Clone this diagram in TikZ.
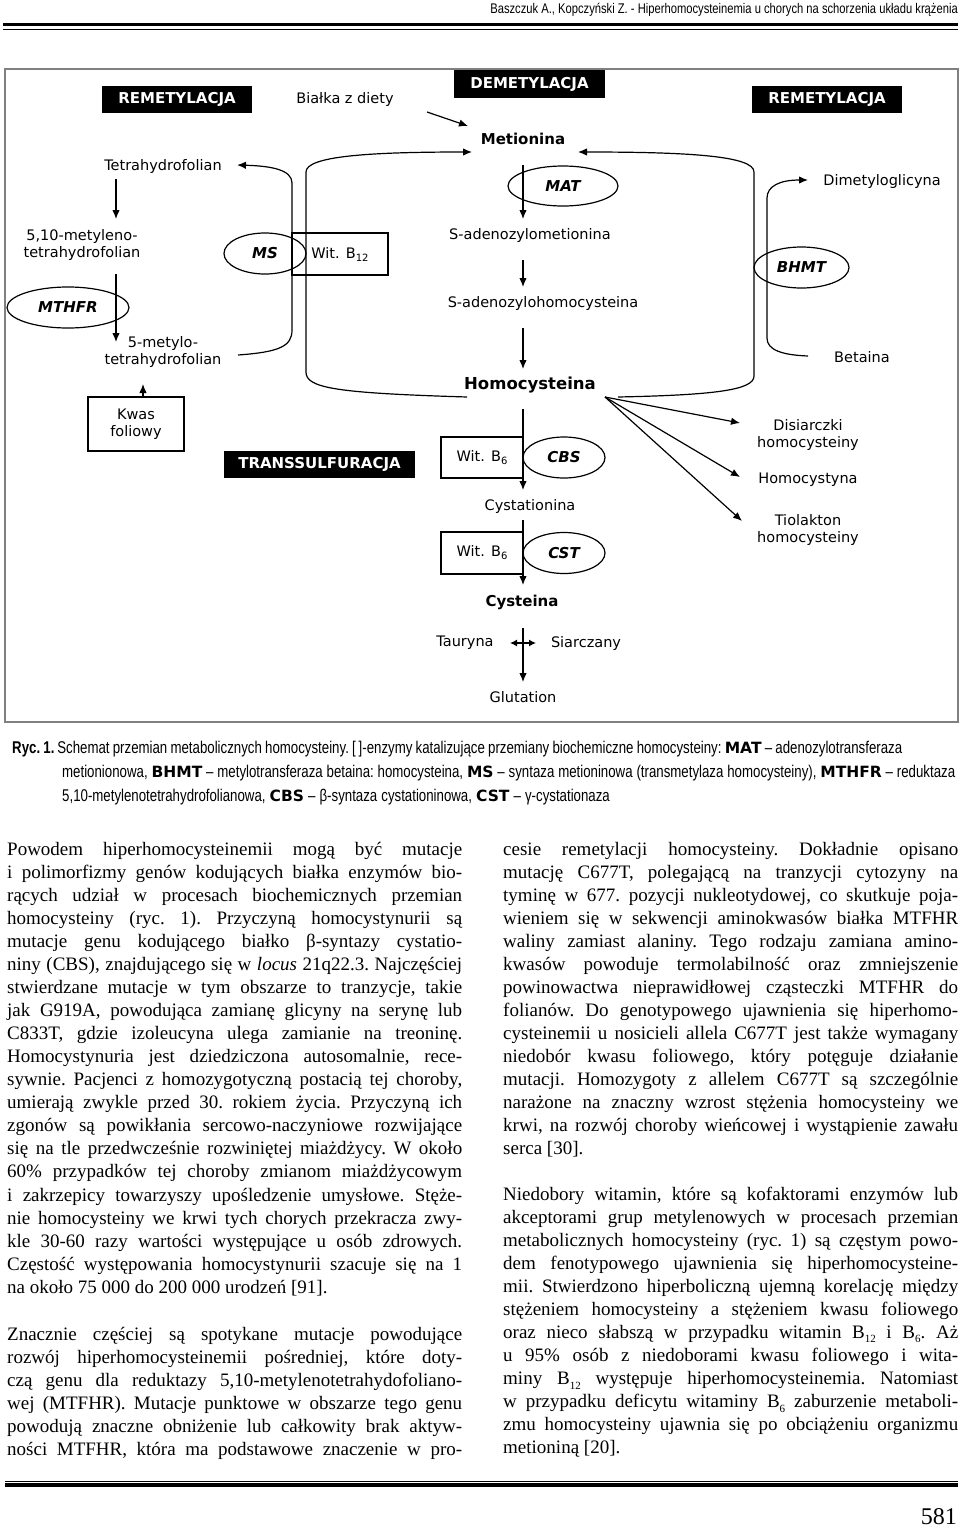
\documentclass[tikz,border=0pt]{standalone}
\usepackage{fontspec}
\setmainfont{Liberation Serif}
\newfontfamily\dv{DejaVu Sans}
\newfontfamily\cond[FakeStretch=0.78]{Liberation Sans}
\newfontfamily\headfont[FakeStretch=0.80]{Liberation Sans}
\usetikzlibrary{shapes.geometric,arrows.meta}
\newlength\colw \setlength\colw{455pt}
\newcommand\jl[1]{\hbox to\colw{#1}}
\newcommand\lastl[1]{\hbox to\colw{#1\hfill}}
\newcommand\subs[1]{\raisebox{-4.5pt}{\fontsize{11}{11}\selectfont #1}}
\newcommand\dsub[1]{\raisebox{-3pt}{\fontsize{10}{10}\selectfont #1}}
\newcommand\bodyset{\fontsize{19}{23.07}\selectfont\frenchspacing\spaceskip=0.25em plus 0.7em minus 0.08em\relax\baselineskip=23.07pt\relax}
\newcommand\capset{\cond\fontsize{17}{20}\selectfont\frenchspacing\spaceskip=0.24em plus 1em minus 0.06em\relax}
\newcommand\capb[1]{{\dv\bfseries\fontsize{15.5}{16}\selectfont #1}}
\tikzset{
  lbl/.style={font=\dv\fontsize{14.5}{17}\selectfont, inner sep=0pt, align=center},
  blbl/.style={font=\dv\bfseries\fontsize{15}{17}\selectfont, inner sep=0pt},
  enz/.style={ellipse, draw, line width=1.2pt, inner sep=0pt, font=\dv\bfseries\itshape\fontsize{15}{17}\selectfont},
  bbox/.style={fill=black, text=white, font=\dv\bfseries\fontsize{15}{17}\selectfont, minimum width=150pt, minimum height=27pt, inner sep=0pt},
  vitbox/.style={draw, line width=2.3pt, font=\dv\fontsize{14.5}{17}\selectfont, inner sep=0pt},
  arr/.style={line width=1.2pt, -{Latex[length=9pt,width=7.5pt]}},
  ln/.style={line width=1.2pt},
  txt/.style={anchor=base west, inner sep=0pt}
}
\begin{document}
\begin{tikzpicture}[x=1pt,y=-1pt]
\useasboundingbox (0,0) rectangle (960,1529);
\fill[white] (0,0) rectangle (960,1529);

% header
\node[anchor=base east, inner sep=0pt, font=\headfont\fontsize{14}{14}\selectfont] (head) at (958,13) {Baszczuk A., Kopczyński Z. - Hiperhomocysteinemia u chorych na schorzenia układu krążenia};
\draw[line width=3pt] (3,24.7) -- (958,24.7);
\draw[line width=1pt] (3,29.5) -- (958,29.5);

% frame
\draw[gray, line width=1.5pt] (5,69) rectangle (958,722);

% nodes of the diagram
\node[bbox] (rem1) at (177,99) {REMETYLACJA};
\node[lbl] (bialka) at (345,99) {Białka z diety};
\node[bbox, minimum height=28pt, minimum width=151pt] (demet) at (529.5,84) {DEMETYLACJA};
\node[bbox] (rem2) at (827,99) {REMETYLACJA};
\node[blbl] (met) at (523,139) {Metionina};
\node[lbl] (thf) at (163,166) {Tetrahydrofolian};
\node[enz, minimum width=110pt, minimum height=40pt] (mat) at (563,186) {MAT};
\node[lbl] (dmg) at (882,181) {Dimetyloglicyna};
\node[lbl] (mthf) at (82,245) {5,10-metyleno-\\tetrahydrofolian};
\node[enz, minimum width=82pt, minimum height=41pt] (ms) at (265,253.5) {MS};
\node[vitbox, minimum width=96pt, minimum height=42pt] (b12) at (340,254) {Wit. B\dsub{12}};
\node[lbl] (sam) at (530,235) {S-adenozylometionina};
\node[enz, minimum width=95pt, minimum height=41pt] (bhmt) at (801.5,267.5) {BHMT};
\node[enz, minimum width=122pt, minimum height=41pt] (mthfr) at (68,307.5) {MTHFR};
\node[lbl] (sah) at (543,303) {S-adenozylohomocysteina};
\node[lbl] (mthf5) at (163,352) {5-metylo-\\tetrahydrofolian};
\node[lbl] (bet) at (862,357) {Betaina};
\node[blbl, font=\dv\bfseries\fontsize{16.5}{18}\selectfont] (hcy) at (530,385) {Homocysteina};
\node[lbl, draw, line width=2pt, minimum width=96pt, minimum height=54pt] (kwas) at (136,424) {Kwas\\foliowy};
\node[bbox, minimum width=191pt] (trans) at (319.5,464.5) {TRANSSULFURACJA};
\node[vitbox, minimum width=82pt, minimum height=41pt] (b6a) at (482,457.5) {Wit. B\dsub{6}};
\node[enz, minimum width=82pt, minimum height=41pt] (cbs) at (564,457.5) {CBS};
\node[lbl] (dis) at (808,435) {Disiarczki\\homocysteiny};
\node[lbl] (hcyst) at (808,480) {Homocystyna};
\node[lbl] (cysta) at (530,506) {Cystationina};
\node[lbl] (tio) at (808,530) {Tiolakton\\homocysteiny};
\node[vitbox, minimum width=82pt, minimum height=42pt] (b6b) at (482,553) {Wit. B\dsub{6}};
\node[enz, minimum width=82pt, minimum height=41pt] (cst) at (564,553) {CST};
\node[blbl] (cys) at (522,602) {Cysteina};
\node[lbl] (tau) at (465,643) {Tauryna};
\node[lbl] (sia) at (586,643) {Siarczany};
\node[lbl] (glu) at (523,697) {Glutation};

% connector end points
\coordinate (bz1) at (427,112); \coordinate (bz2) at (468,126);
\coordinate (t1) at (116,179); \coordinate (t2) at (116,219);
\coordinate (m1) at (116,274); \coordinate (m2) at (116,342);
\coordinate (k1) at (143,397); \coordinate (k2) at (143,384);
\coordinate (s1) at (523,165); \coordinate (s2) at (523,219);
\coordinate (s3) at (523,260); \coordinate (s4) at (523,287);
\coordinate (s5) at (523,328); \coordinate (s6) at (523,369);
\coordinate (s7) at (523,409); \coordinate (s8) at (523,490);
\coordinate (s9) at (523,520); \coordinate (s10) at (523,585);
\coordinate (s11) at (523,628); \coordinate (s12) at (523,682);
\coordinate (h1) at (510,643); \coordinate (h2) at (536,643);
\coordinate (fan) at (605,397);
\coordinate (f1) at (740,423); \coordinate (f2) at (740,477); \coordinate (f3) at (742,521);
\coordinate (pa) at (238,355); \coordinate (pae) at (237,165);
\coordinate (pb) at (467,397); \coordinate (pbe) at (472,152);
\coordinate (pc) at (618,397); \coordinate (pce) at (578,152);
\coordinate (pd) at (808,356); \coordinate (pde) at (808,180);

\draw[arr] (bz1) -- (bz2);
\draw[arr] (t1) -- (t2);
\draw[arr] (m1) -- (m2);
\draw[arr] (k1) -- (k2);
\draw[arr] (s1) -- (s2);
\draw[arr] (s3) -- (s4);
\draw[arr] (s5) -- (s6);
\draw[arr] (s7) -- (s8);
\draw[arr] (s9) -- (s10);
\draw[arr] (s11) -- (s12);
\draw[line width=1.2pt, {Latex[length=7pt,width=7pt]}-{Latex[length=7pt,width=7pt]}] (h1) -- (h2);
\draw[arr] (fan) -- (f1);
\draw[arr] (fan) -- (f2);
\draw[arr] (fan) -- (f3);
\draw[arr] (pa) .. controls (280,352) and (292,346) .. (292,330) -- (292,183) .. controls (292,170) and (272,166) .. (pae);
\draw[arr] (pb) .. controls (335,393) and (306,388) .. (306,372) -- (306,172) .. controls (306,156) and (370,152) .. (pbe);
\draw[arr] (pc) .. controls (715,395) and (754,390) .. (754,376) -- (754,172) .. controls (754,156) and (690,152) .. (pce);
\draw[arr] (pd) .. controls (782,355) and (767,350) .. (767,338) -- (767,198) .. controls (767,186) and (780,180) .. (pde);

% caption
\node[txt] (cap1) at (12,753) {\hbox to 890pt{\capset\textbf{Ryc. 1.}\,Schemat przemian metabolicznych homocysteiny. [\,]-enzymy katalizujące przemiany biochemiczne homocysteiny: \capb{MAT} – adenozylotransferaza}};
\node[txt] (cap2) at (62,777) {\hbox to 893pt{\capset metionionowa, \capb{BHMT} – metylotransferaza betaina: homocysteina, \capb{MS} – syntaza metioninowa (transmetylaza homocysteiny), \capb{MTHFR} – reduktaza}};
\node[txt] (cap3) at (62,801) {\hbox{\capset 5,10-metylenotetrahydrofolianowa, \capb{CBS} – β-syntaza cystationinowa, \capb{CST} – γ-cystationaza}};

% body text, left column
\node[txt] (colL1) at (7,855) {\vtop{\bodyset
\jl{Powodem hiperhomocysteinemii mogą być mutacje}
\jl{i polimorfizmy genów kodujących białka enzymów bio-}
\jl{rących udział w procesach biochemicznych przemian}
\jl{homocysteiny (ryc. 1). Przyczyną homocystynurii są}
\jl{mutacje genu kodującego białko β-syntazy cystatio-}
\jl{niny (CBS), znajdującego się w \textit{locus} 21q22.3. Najczęściej}
\jl{stwierdzane mutacje w tym obszarze to tranzycje, takie}
\jl{jak G919A, powodująca zamianę glicyny na serynę lub}
\jl{C833T, gdzie izoleucyna ulega zamianie na treoninę.}
\jl{Homocystynuria jest dziedziczona autosomalnie, rece-}
\jl{sywnie. Pacjenci z homozygotyczną postacią tej choroby,}
\jl{umierają zwykle przed 30. rokiem życia. Przyczyną ich}
\jl{zgonów są powikłania sercowo-naczyniowe rozwijające}
\jl{się na tle przedwcześnie rozwiniętej miażdżycy. W około}
\jl{60\% przypadków tej choroby zmianom miażdżycowym}
\jl{i zakrzepicy towarzyszy upośledzenie umysłowe. Stęże-}
\jl{nie homocysteiny we krwi tych chorych przekracza zwy-}
\jl{kle 30-60 razy wartości występujące u osób zdrowych.}
\jl{Częstość występowania homocystynurii szacuje się na 1}
\lastl{na około 75 000 do 200 000 urodzeń [91].}
}};
\node[txt] (colL2) at (7,1340) {\vtop{\bodyset
\jl{Znacznie częściej są spotykane mutacje powodujące}
\jl{rozwój hiperhomocysteinemii pośredniej, które doty-}
\jl{czą genu dla reduktazy 5,10-metylenotetrahydofoliano-}
\jl{wej (MTFHR). Mutacje punktowe w obszarze tego genu}
\jl{powodują znaczne obniżenie lub całkowity brak aktyw-}
\jl{ności MTFHR, która ma podstawowe znaczenie w pro-}
}};

% body text, right column
\node[txt] (colR1) at (503,855) {\vtop{\bodyset
\jl{cesie remetylacji homocysteiny. Dokładnie opisano}
\jl{mutację C677T, polegającą na tranzycji cytozyny na}
\jl{tyminę w 677. pozycji nukleotydowej, co skutkuje poja-}
\jl{wieniem się w sekwencji aminokwasów białka MTFHR}
\jl{waliny zamiast alaniny. Tego rodzaju zamiana amino-}
\jl{kwasów powoduje termolabilność oraz zmniejszenie}
\jl{powinowactwa nieprawidłowej cząsteczki MTFHR do}
\jl{folianów. Do genotypowego ujawnienia się hiperhomo-}
\jl{cysteinemii u nosicieli allela C677T jest także wymagany}
\jl{niedobór kwasu foliowego, który potęguje działanie}
\jl{mutacji. Homozygoty z allelem C677T są szczególnie}
\jl{narażone na znaczny wzrost stężenia homocysteiny we}
\jl{krwi, na rozwój choroby wieńcowej i wystąpienie zawału}
\lastl{serca [30].}
}};
\node[txt] (colR2) at (503,1200) {\vtop{\bodyset
\jl{Niedobory witamin, które są kofaktorami enzymów lub}
\jl{akceptorami grup metylenowych w procesach przemian}
\jl{metabolicznych homocysteiny (ryc. 1) są częstym powo-}
\jl{dem fenotypowego ujawnienia się hiperhomocysteine-}
\jl{mii. Stwierdzono hiperboliczną ujemną korelację między}
\jl{stężeniem homocysteiny a stężeniem kwasu foliowego}
\jl{oraz nieco słabszą w przypadku witamin B\subs{12} i B\subs{6}. Aż}
\jl{u 95\% osób z niedoborami kwasu foliowego i wita-}
\jl{miny B\subs{12} występuje hiperhomocysteinemia. Natomiast}
\jl{w przypadku deficytu witaminy B\subs{6} zaburzenie metaboli-}
\jl{zmu homocysteiny ujawnia się po obciążeniu organizmu}
\lastl{metioniną [20].}
}};

% footer
\draw[line width=1pt] (5,1481) -- (958,1481);
\draw[line width=4pt] (5,1485) -- (958,1485);
\node[anchor=base east, inner sep=0pt, font=\fontsize{24}{24}\selectfont] (pnum) at (957,1524) {581};
\end{tikzpicture}
\end{document}
